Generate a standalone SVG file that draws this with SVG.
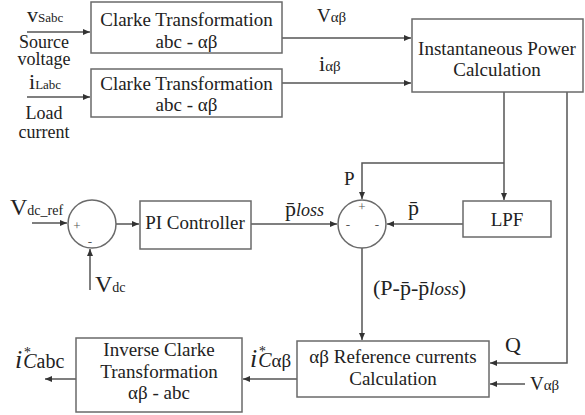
<svg xmlns="http://www.w3.org/2000/svg" width="585" height="415" viewBox="0 0 585 415">
<style>
text{font-family:"Liberation Serif","Times New Roman",serif;fill:#222;font-size:19px}
.c{text-anchor:middle}
.box{fill:#fff;stroke:#6a6a6a;stroke-width:1.5}
.ln{fill:none;stroke:#555;stroke-width:1.5}
.sub{font-size:13px}
.sg{font-size:13px;fill:#555}
.it{font-style:italic}
</style>
<defs>
<marker id="ah" markerWidth="8" markerHeight="6" refX="7" refY="3" orient="auto" markerUnits="userSpaceOnUse">
<path d="M0,0 L7,3 L0,6 z" fill="#333"/>
</marker>
</defs>
<rect width="585" height="415" fill="#fff"/>
<g id="connectors">
<line class="ln" x1="27" y1="32" x2="90" y2="32" marker-end="url(#ah)"/>
<line class="ln" x1="27" y1="97" x2="90" y2="97" marker-end="url(#ah)"/>
<line class="ln" x1="282" y1="38" x2="411" y2="38" marker-end="url(#ah)"/>
<line class="ln" x1="282" y1="83" x2="411" y2="83" marker-end="url(#ah)"/>
<line class="ln" x1="504" y1="92" x2="504" y2="200" marker-end="url(#ah)"/>
<polyline class="ln" points="504,163 362,163 362,199" marker-end="url(#ah)"/>
<polyline class="ln" points="567,92 567,363 490,363" marker-end="url(#ah)"/>
<line class="ln" x1="463" y1="224" x2="387" y2="224" marker-end="url(#ah)"/>
<line class="ln" x1="251" y1="224" x2="337" y2="224" marker-end="url(#ah)"/>
<line class="ln" x1="32" y1="223" x2="67" y2="223" marker-end="url(#ah)"/>
<line class="ln" x1="90" y1="290" x2="90" y2="249" marker-end="url(#ah)"/>
<line class="ln" x1="116" y1="224" x2="139" y2="224" marker-end="url(#ah)"/>
<line class="ln" x1="362" y1="248" x2="362" y2="340" marker-end="url(#ah)"/>
<line class="ln" x1="525" y1="384" x2="490" y2="384" marker-end="url(#ah)"/>
<line class="ln" x1="297" y1="379" x2="243" y2="379" marker-end="url(#ah)"/>
<line class="ln" x1="76" y1="379" x2="45" y2="379" marker-end="url(#ah)"/>
</g>
<g id="clarke1">
<rect class="box" x="91" y="2" width="191" height="51"/>
<text class="c" x="186.5" y="26">Clarke Transformation</text>
<text class="c" x="186.5" y="48">abc - αβ</text>
</g>
<g id="clarke2">
<rect class="box" x="91" y="69" width="191" height="48"/>
<text class="c" x="186.5" y="90">Clarke Transformation</text>
<text class="c" x="186.5" y="111">abc - αβ</text>
</g>
<g id="inputs">
<text x="27" y="22" style="font-size:22px">v<tspan class="sub">Sabc</tspan></text>
<text class="c" x="44" y="48" style="font-size:18px">Source</text>
<text class="c" x="44" y="65" style="font-size:18px">voltage</text>
<text x="29" y="89" style="font-size:22px">i<tspan class="sub">Labc</tspan></text>
<text class="c" x="44" y="119" style="font-size:18px">Load</text>
<text class="c" x="44" y="138" style="font-size:18px">current</text>
</g>
<g id="labels-top">
<text x="317" y="22">V<tspan class="sub" style="font-size:15px">αβ</tspan></text>
<text x="319" y="71" style="font-size:22px">i<tspan style="font-size:15px">αβ</tspan></text>
</g>
<g id="power">
<rect class="box" x="412" y="19" width="171" height="73"/>
<text class="c" x="497" y="55">Instantaneous Power</text>
<text class="c" x="497" y="76">Calculation</text>
</g>
<g id="lpf">
<rect class="box" x="463" y="201" width="88" height="36"/>
<text class="c" x="507" y="226">LPF</text>
</g>
<g id="sum2">
<circle class="box" cx="362" cy="224" r="24"/>
<text class="sg c" x="362" y="211">+</text>
<text class="sg c" x="348" y="229">-</text>
<text class="sg c" x="377" y="229">-</text>
<text x="344" y="185">P</text>
<text x="408" y="215" style="font-size:22px">p̄</text>
<text x="285" y="216" style="font-size:22px">p̄<tspan class="it" style="font-size:18px">loss</tspan></text>
<text x="373" y="295" style="font-size:22px">(P-p̄-p̄<tspan class="it" style="font-size:19px">loss</tspan>)</text>
</g>
<g id="sum1">
<circle class="box" cx="92" cy="224" r="24"/>
<text class="sg c" x="77" y="230">+</text>
<text class="sg c" x="90" y="246">-</text>
<text x="10" y="215" style="font-size:24px">V<tspan class="sub" style="font-size:14px">dc_ref</tspan></text>
<text x="95" y="292" style="font-size:24px">V<tspan class="sub" style="font-size:14px">dc</tspan></text>
</g>
<g id="pi">
<rect class="box" x="140" y="201" width="111" height="48"/>
<text class="c" x="195" y="229">PI Controller</text>
</g>
<g id="refcalc">
<rect class="box" x="297" y="341" width="192" height="56"/>
<text class="c" x="393" y="363">αβ Reference currents</text>
<text class="c" x="393" y="385">Calculation</text>
<text x="505" y="352" style="font-size:22px">Q</text>
<text x="530" y="390">V<tspan class="sub" style="font-size:15px">αβ</tspan></text>
</g>
<g id="inverse">
<rect class="box" x="76" y="338" width="166" height="74"/>
<text class="c" x="159" y="356">Inverse Clarke</text>
<text class="c" x="159" y="378">Transformation</text>
<text class="c" x="159" y="399">αβ - abc</text>
<text x="250" y="367" style="font-size:26px"><tspan class="it">i</tspan><tspan class="it" dx="1" dy="-11" style="font-size:14px">*</tspan><tspan class="it" dy="11" dx="-7" style="font-size:20px">C</tspan><tspan style="font-size:19px">αβ</tspan></text>
<text x="15" y="368" style="font-size:26px"><tspan class="it">i</tspan><tspan class="it" dx="1" dy="-11" style="font-size:14px">*</tspan><tspan class="it" dy="11" dx="-7" style="font-size:20px">C</tspan><tspan style="font-size:20px">abc</tspan></text>
</g>
</svg>
